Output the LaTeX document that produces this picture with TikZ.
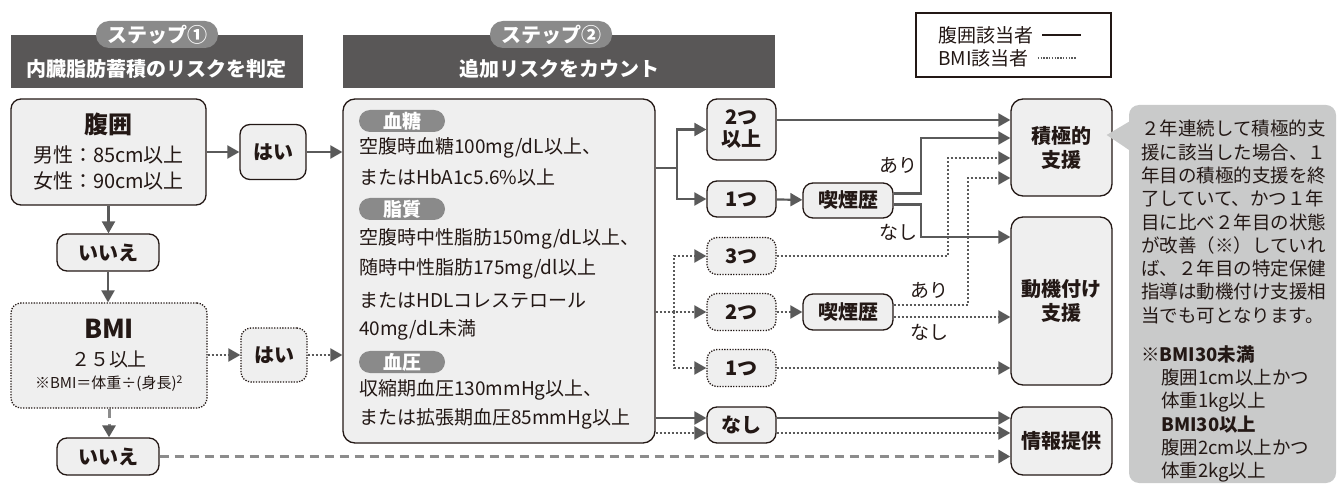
\documentclass[tikz,border=0pt]{standalone}
\usepackage{fontspec}
\setmainfont{Noto Sans CJK JP}
\usetikzlibrary{arrows.meta,positioning}
\definecolor{linegray}{HTML}{5A5A5A}
\definecolor{boxfill}{HTML}{EFEFEF}
\definecolor{boxline}{HTML}{231815}
\definecolor{headfill}{HTML}{595757}
\definecolor{pillfill}{HTML}{8A8A8A}
\definecolor{notefill}{HTML}{C9CACA}
\definecolor{dashgray}{HTML}{8C8C8C}

\begin{document}
\begin{tikzpicture}[x=1pt,y=-1pt,% one unit = one pixel of the layout, y downwards
        every node/.style={inner sep=0pt,text=boxline},
        box/.style={draw=boxline,fill=boxfill,line width=1.3pt,rounded corners=10pt,align=center,font=\fontsize{20}{24}\selectfont\bfseries},
        dotbox/.style={box,dash pattern=on 1.3pt off 1.4pt},
        arr/.style={draw=linegray,line width=2.2pt,-{Triangle[length=12pt,width=13pt,color=linegray]}},
        dotarr/.style={arr,dash pattern=on 2pt off 2pt},
        dasharr/.style={arr,draw=dashgray,line width=3pt,dash pattern=on 9pt off 6pt},
        head/.style={fill=headfill},
        headtext/.style={text=white,font=\fontsize{20}{24}\selectfont\bfseries},
        pill/.style={fill=pillfill,text=white,rounded corners=13pt,font=\fontsize{20}{24}\selectfont\bfseries},
        tag/.style={fill=pillfill,text=white,rounded corners=11pt,minimum width=86,minimum height=22,font=\fontsize{19}{19}\selectfont\bfseries},
        lbl/.style={font=\fontsize{19}{19}\selectfont}]
\useasboundingbox (0,0) rectangle (1339,486);

% step headers
\node[head,minimum width=292,minimum height=53] (head1) at (157,61.5) {};
\node[headtext] (title1) at (157,69) {内臓脂肪蓄積のリスクを判定};
\node[pill,minimum width=122,minimum height=27] (step1) at (157,34.5) {ステップ①};
\node[head,minimum width=432,minimum height=53] (head2) at (559,61.5) {};
\node[headtext] (title2) at (559,69) {追加リスクをカウント};
\node[pill,minimum width=122,minimum height=27] (step2) at (551,34.5) {ステップ②};

% legend
\node[draw=boxline,line width=1.2pt,minimum width=195,minimum height=64] (legend) at (1013.5,45) {};
\node[lbl,anchor=west] (leg-waist) at (938,35) {腹囲該当者};
\node[lbl,anchor=west] (leg-bmi) at (938,58) {BMI該当者};
\draw[boxline,line width=1.2pt] ([xshift=9pt]leg-waist.east) -- ++(39,0);
\draw[linegray,line width=1.4pt,dash pattern=on 1.4pt off 1.4pt] ([xshift=9pt]leg-bmi.east) -- ++(39,0);

% step 1
\node[box,minimum width=195,minimum height=106,font=\fontsize{20}{26}\selectfont] (waist) at (108.5,152)
  {{\fontsize{24}{24}\selectfont\bfseries 腹囲}\\[3pt]男性：85cm以上\\女性：90cm以上};
\node[box,minimum width=66,minimum height=55] (yesA) at (273,152) {はい};
\node[box,minimum width=102,minimum height=37] (noA) at (108,252.5) {いいえ};
\node[dotbox,minimum width=196,minimum height=105,font=\fontsize{19}{27}\selectfont] (bmi) at (109,355.5)
  {{\fontsize{26}{26}\selectfont\bfseries BMI}\\[1pt]２５以上\\[-5pt]{\fontsize{15}{15}\selectfont ※BMI＝体重÷(身長)\textsuperscript{2}}};
\node[dotbox,minimum width=66,minimum height=54] (yesB) at (274,355) {はい};
\node[box,minimum width=102,minimum height=37] (noB) at (108,456.5) {いいえ};

% step 2
\node[box,minimum width=312,minimum height=344,rounded corners=12pt] (risk) at (499,271) {};
\foreach[count=\i] \y/\txt in {121/血糖,209/脂質,362/血圧}{
  \node[tag] (tag-\i) at (402,\y) {\txt};
}
\foreach[count=\i] \y/\txt in {148/{空腹時血糖100mg/dL以上、},177/{またはHbA1c5.6\%以上},
    239/{空腹時中性脂肪150mg/dL以上、},269/{随時中性脂肪175mg/dl以上},300/{またはHDLコレステロール},
    330/{40mg/dL未満},390/{収縮期血圧130mmHg以上、},419/{または拡張期血圧85mmHg以上}}{
  \node[lbl,anchor=west] (line-\i) at (359,\y) {\txt};
}

\node[box,minimum width=69,minimum height=61,font=\fontsize{20}{22}\selectfont\bfseries] (twoA) at (741.5,129.5) {2つ\\以上};
\node[box,minimum width=69,minimum height=36] (oneA) at (741.5,199) {1つ};
\node[box,minimum width=90,minimum height=35] (smokeA) at (848,200.5) {喫煙歴};
\node[dotbox,minimum width=69,minimum height=37] (threeB) at (741.5,256) {3つ};
\node[dotbox,minimum width=69,minimum height=37] (twoB) at (741.5,312) {2つ};
\node[box,minimum width=90,minimum height=36] (smokeB) at (848,312) {喫煙歴};
\node[dotbox,minimum width=69,minimum height=37] (oneB) at (741.5,368) {1つ};
\node[box,minimum width=69,minimum height=36] (noneA) at (741.5,425) {なし};

% outcomes
\node[box,minimum width=101,minimum height=97,rounded corners=12pt] (active) at (1061.5,147.5) {積極的\\支援};
\node[box,minimum width=101,minimum height=168,rounded corners=12pt] (motiv) at (1061.5,301) {動機付け\\支援};
\node[box,minimum width=101,minimum height=68,rounded corners=12pt] (info) at (1061.5,441) {情報提供};

% note
\node[fill=notefill,rounded corners=10pt,minimum width=207,minimum height=378] (note) at (1232.5,294) {};
\fill[notefill] ([xshift=-6pt,yshift=12.5pt]active.east) -- ([yshift=-17pt]note.north west) -- ([yshift=-45pt]note.north west) -- cycle;
\node[anchor=north west,align=left,font=\fontsize{18.5}{23.3}\selectfont] (note-text) at (1141,120)
  {２年連続して積極的支\\援に該当した場合、１\\年目の積極的支援を終\\了していて、かつ１年\\目に比べ２年目の状態\\
   が改善（※）していれ\\ば、２年目の特定保健\\指導は動機付け支援相\\当でも可となります。\\[15.7pt]
   {\bfseries ※BMI30未満}\\\hspace*{20pt}腹囲1cm以上かつ\\\hspace*{20pt}体重1kg以上\\
   \hspace*{20pt}{\bfseries BMI30以上}\\\hspace*{20pt}腹囲2cm以上かつ\\\hspace*{20pt}体重2kg以上};

% branch points
\coordinate (forkA) at (677,168);
\coordinate (forkB) at (674,312);

% connectors, step 1
\draw[arr] (waist) -- (yesA);
\draw[arr] (yesA.east) -- (yesA.east -| risk.west);
\draw[arr] (waist.south) -- (waist.south |- noA.north);
\draw[arr] (noA.south) -- (noA.south |- bmi.north);
\draw[dotarr] (bmi.east |- yesB) -- (yesB.west);
\draw[dotarr] (yesB.east) -- (yesB.east -| risk.west);
\draw[dasharr] (bmi.south) -- (bmi.south |- noB.north);
\draw[dasharr] (noB.east) -- (noB.east -| info.west);

% connectors, step 2 (waist)
\draw[arr] (forkA -| risk.east) -- (forkA) |- (twoA.west);
\draw[arr] (forkA) |- (oneA.west);
\draw[arr] ([yshift=9.5pt]twoA.east) -- ([yshift=9.5pt]twoA.east -| active.west);
\draw[arr] (oneA) -- (smokeA);
\draw[arr] ([yshift=7pt]smokeA.east) -- ++(27,0) |- ([yshift=9.5pt]active.west);
\draw[arr] ([yshift=-4pt]smokeA.east) -- ++(27,0) |- ([yshift=64pt]motiv.west);
\node[lbl] (yes-smokeA) at (898,165) {あり};
\node[lbl] (no-smokeA) at (898,232) {なし};
\draw[arr] ([yshift=7pt]noneA.west -| risk.east) -- ([yshift=7pt]noneA.west);
\draw[arr] ([yshift=7pt]noneA.east) -- ([yshift=7pt]noneA.east -| info.west);

% connectors, step 2 (BMI)
\draw[dotarr] (forkB -| risk.east) -- (forkB) |- (twoB.west);
\draw[dotarr] (forkB) |- (threeB.west);
\draw[dotarr] (forkB) |- (oneB.west);
\draw[dotarr] (threeB.east) -- ++(171,0) |- ([yshift=-10.5pt]active.west);
\draw[dotarr] (twoB) -- (smokeB);
\draw[dotarr] ([yshift=7pt]smokeB.east) -- ++(74,0) |- ([yshift=-30.5pt]active.west);
\draw[dotarr] ([yshift=-5pt]smokeB.east) -- ([yshift=-5pt]smokeB.east -| motiv.west);
\node[lbl] (yes-smokeB) at (929,290) {あり};
\node[lbl] (no-smokeB) at (929,332) {なし};
\draw[dotarr] (oneB.east) -- (oneB.east -| motiv.west);
\draw[dotarr] ([yshift=-8pt]noneA.west -| risk.east) -- ([yshift=-8pt]noneA.west);
\draw[dotarr] ([yshift=-8pt]noneA.east) -- ([yshift=-8pt]noneA.east -| info.west);

\end{tikzpicture}
\end{document}
